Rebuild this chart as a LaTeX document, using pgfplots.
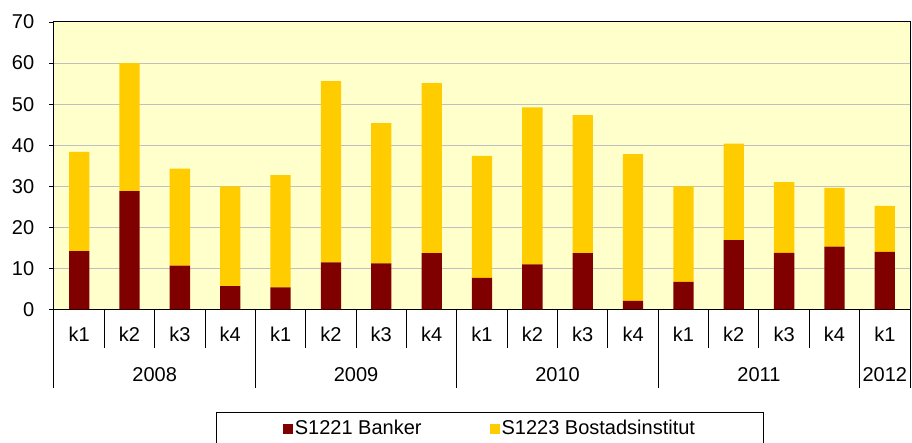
\documentclass[border=0pt]{standalone}
\usepackage{pgfplots}
\pgfplotsset{compat=1.18}
\usepackage{pgfplotstable}
\usepackage{fontspec}
\setmainfont{Liberation Sans}
\definecolor{bankred}{HTML}{800000}
\definecolor{bostyellow}{HTML}{FFCC00}
\definecolor{bgyellow}{HTML}{FFFFCC}
\definecolor{gridgray}{HTML}{C0C0C0}
\pgfplotstableread{
x red yellow
0 14.2 24.2
1 28.8 31.2
2 10.7 23.6
3 5.7 24.3
4 5.4 27.3
5 11.5 44.1
6 11.2 34.2
7 13.7 41.4
8 7.7 29.7
9 11.0 38.2
10 13.7 33.6
11 2.1 35.7
12 6.7 23.3
13 16.9 23.5
14 13.8 17.2
15 15.3 14.3
16 14.0 11.2
}\datatable
\begin{document}
\fontsize{20}{24}\selectfont
\begin{tikzpicture}
\useasboundingbox (-54pt,-133.5pt) rectangle (858pt,309.5pt);
\begin{axis}[
  at={(0,0)}, anchor=south west,
  scale only axis,
  width=856pt, height=287.5pt,
  xmin=-0.5, xmax=16.5,
  ymin=0, ymax=70,
  ytick={0,10,...,70},
  xtick={0,...,16},
  xticklabels={k1,k2,k3,k4,k1,k2,k3,k4,k1,k2,k3,k4,k1,k2,k3,k4,k1},
  x tick style={draw=none},
  y tick style={black, line width=0.8pt},
  tick align=outside,
  major tick length=5pt,
  tick pos=left,
  ymajorgrids,
  grid style={gridgray, line width=1pt},
  axis line style={black, line width=1pt},
  axis background/.style={fill=bgyellow},
  ybar stacked,
  bar width=20.3pt,
  ticklabel style={font=\fontsize{20}{24}\selectfont},
  /pgf/number format/assume math mode=true,
  xticklabel style={yshift=-6pt},
  yticklabel style={xshift=-8pt},
  clip=false,
  legend style={at={(0.5093,-0.3565)}, anchor=north, draw=black, line width=1pt,
    font=\fontsize{20}{24}\selectfont, inner xsep=66pt, inner ysep=6pt,
    /tikz/every even column/.append style={column sep=66pt}},
  legend columns=2,
  legend image code/.code={\fill[#1] (0pt,-5pt) rectangle (10pt,5pt);},
]
\addplot[fill=bankred, draw=none] table[x=x, y=red] {\datatable};
\addlegendentry{S1221 Banker}
\addplot[fill=bostyellow, draw=none] table[x=x, y=yellow] {\datatable};
\addlegendentry{S1223 Bostadsinstitut}
\pgfplotsinvokeforeach{0.5,1.5,2.5,4.5,5.5,6.5,8.5,9.5,10.5,12.5,13.5,14.5}{
  \draw[black, line width=1pt] (axis cs:#1,0) -- ++(0pt,-39pt);
}
\pgfplotsinvokeforeach{-0.5,3.5,7.5,11.5,15.5,16.5}{
  \draw[black, line width=1pt] (axis cs:#1,0) -- ++(0pt,-78.5pt);
}
\node at (axis cs:1.5,0) [yshift=-65pt] {2008};
\node at (axis cs:5.5,0) [yshift=-65pt] {2009};
\node at (axis cs:9.5,0) [yshift=-65pt] {2010};
\node at (axis cs:13.5,0) [yshift=-65pt] {2011};
\node at (axis cs:16,0) [yshift=-65pt] {2012};
\end{axis}
\end{tikzpicture}
\end{document}
